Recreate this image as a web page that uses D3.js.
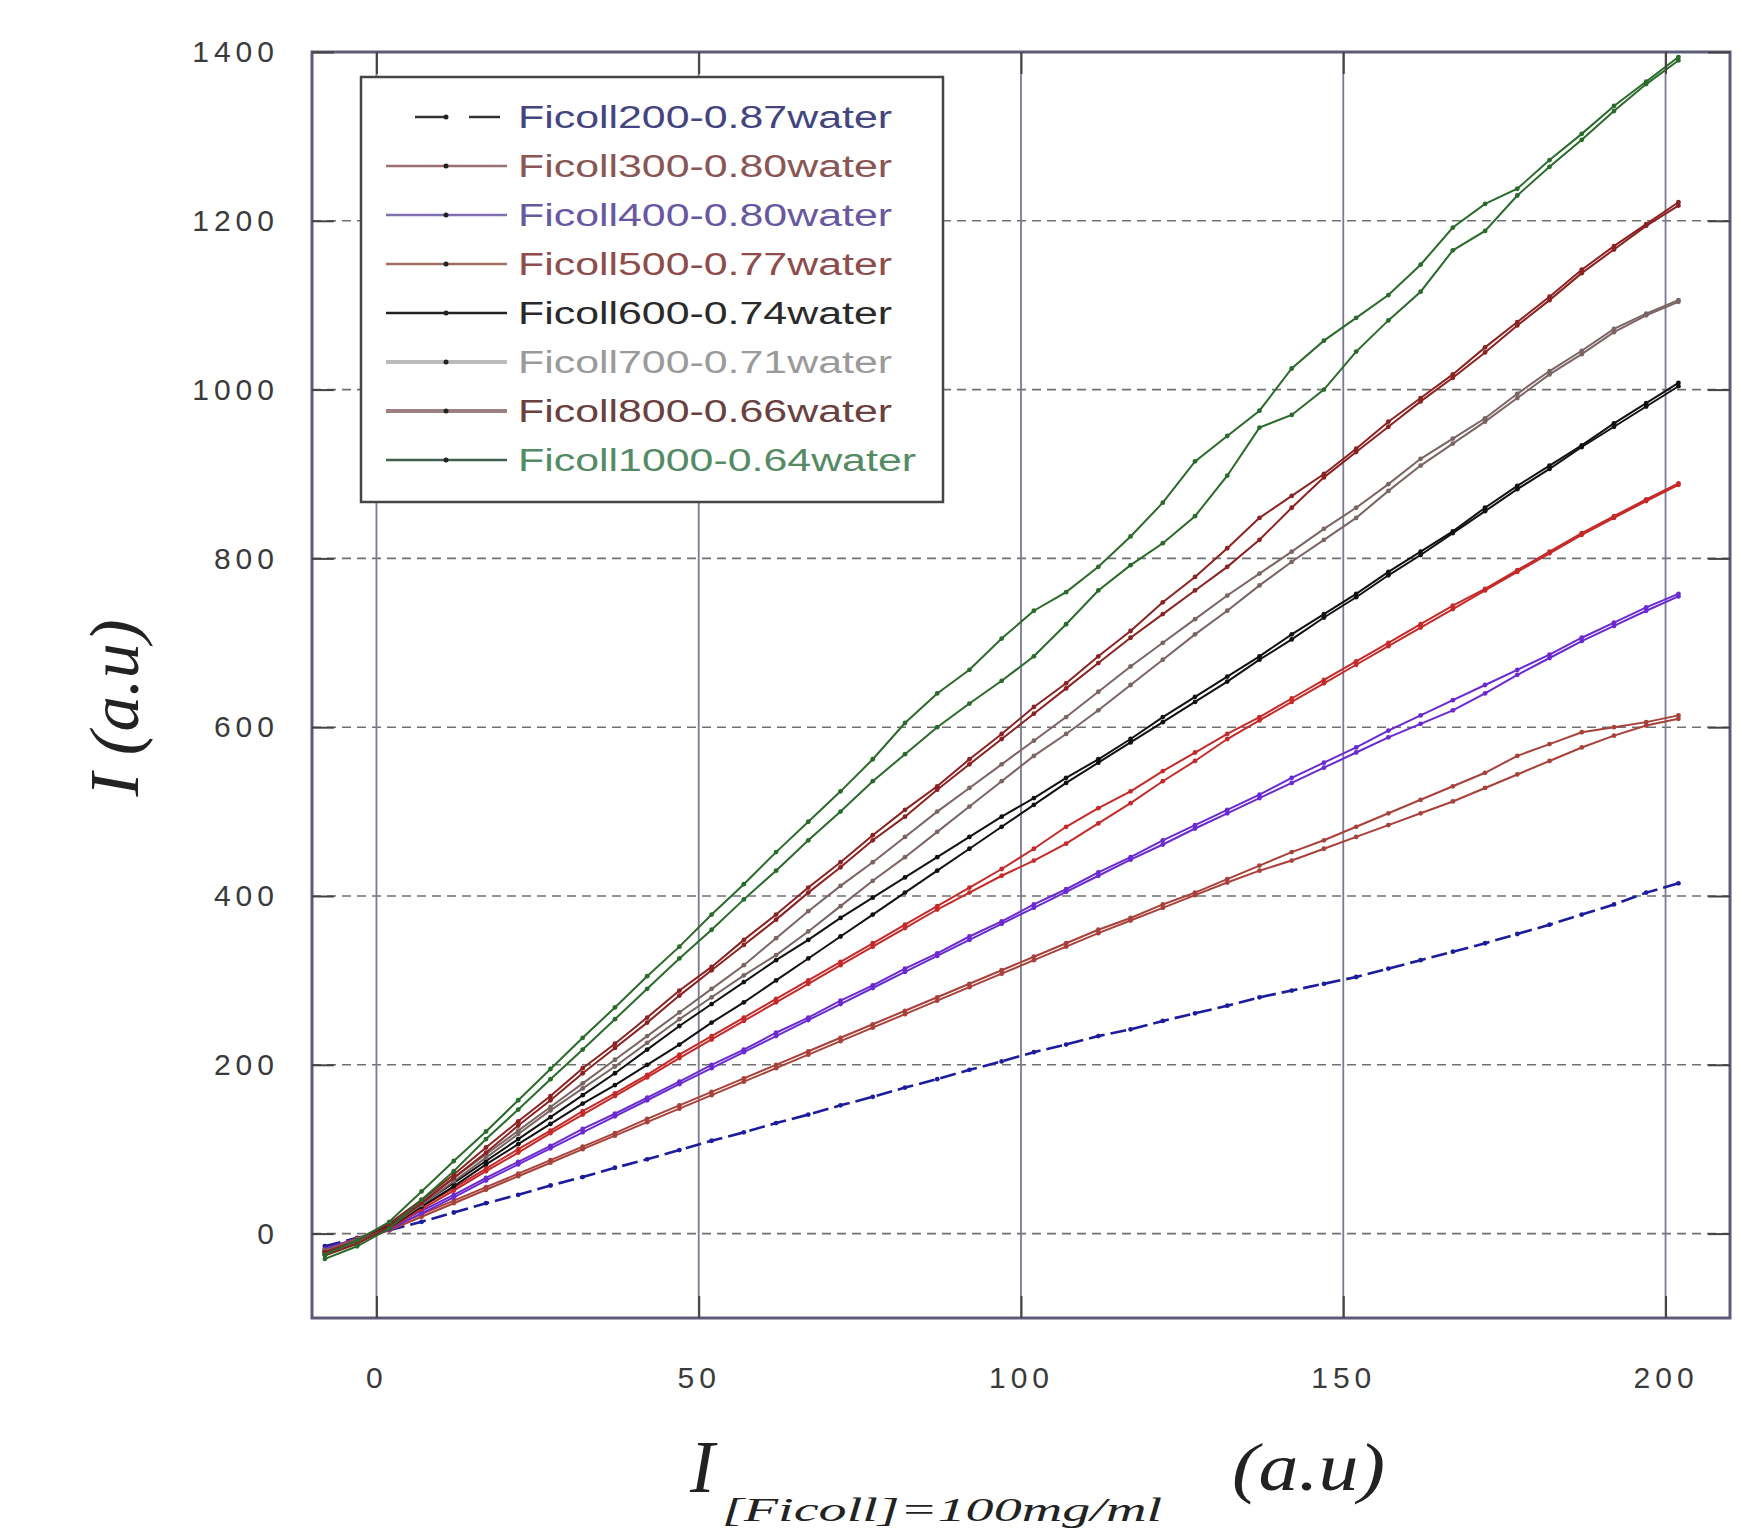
<!DOCTYPE html>
<html>
<head>
<meta charset="utf-8">
<script src="https://cdn.jsdelivr.net/npm/d3@7"></script>
<style>
  body { margin: 0; background: #fff; }
  svg { display: block; }
  .tick-label text { font-family: 'Liberation Sans', Arial, sans-serif; font-size: 30px; fill: #3a3a3a; letter-spacing: 5px; }
  .legend-label { font-family: 'Liberation Sans', Arial, sans-serif; font-size: 31px; }
  .axis-title { font-family: 'Liberation Serif', 'Times New Roman', serif; font-style: italic; fill: #222; }
</style>
</head>
<body>
<div id="chart1"></div>
<script>
// shared x positions of every trace (a.u.)
var xValues = [-8, -3, 2, 7, 12, 17, 22, 27, 32, 37, 42, 47, 52, 57, 62, 67, 72, 77, 82, 87, 92, 97,
  102, 107, 112, 117, 122, 127, 132, 137, 142, 147, 152, 157, 162, 167, 172, 177, 182, 187, 192, 197, 202]

var xTicks = [0, 50, 100, 150, 200]
var yTicks = [0, 200, 400, 600, 800, 1000, 1200, 1400]

var seriesNames = ['Ficoll200-0.87water', 'Ficoll300-0.80water', 'Ficoll400-0.80water', 'Ficoll500-0.77water',
  'Ficoll600-0.74water', 'Ficoll700-0.71water', 'Ficoll800-0.66water', 'Ficoll1000-0.64water']

var ficoll200 = [-15, -5, 4, 14, 25, 36, 46, 57, 67, 78, 88, 99, 110, 120, 131, 141, 152, 162, 173, 183, 194, 204,
  215, 224, 234, 242, 252, 261, 270, 280, 288, 296, 304, 314, 324, 334, 344, 355, 366, 378, 390, 404, 415]

var ficoll300a = [-18, -6, 7, 23, 39, 55, 71, 87, 103, 119, 136, 152, 168, 184, 200, 216, 232, 248, 264, 280, 296, 312,
  328, 344, 360, 374, 390, 404, 420, 436, 452, 466, 482, 498, 514, 530, 546, 566, 580, 594, 600, 606, 614]
var ficoll300b = [-21, -9, 4, 20, 36, 52, 68, 84, 100, 116, 132, 148, 164, 180, 196, 212, 228, 244, 260, 276, 292, 308,
  324, 340, 356, 371, 386, 401, 416, 430, 442, 456, 470, 484, 498, 512, 528, 544, 560, 576, 590, 602, 610]

var ficoll400a = [-18, -6, 8, 27, 46, 66, 85, 104, 124, 142, 161, 180, 200, 218, 238, 256, 276, 294, 314, 332, 352, 370,
  390, 408, 428, 446, 466, 484, 502, 520, 540, 558, 576, 596, 614, 632, 650, 668, 686, 706, 724, 742, 758]
var ficoll400b = [-21, -9, 5, 24, 43, 63, 82, 101, 120, 139, 158, 177, 196, 215, 234, 253, 272, 291, 310, 329, 348, 367,
  386, 405, 424, 443, 461, 480, 498, 516, 534, 552, 570, 588, 604, 620, 640, 662, 682, 702, 720, 738, 755]

var ficoll500a = [-20, -6, 9, 32, 54, 77, 100, 122, 145, 166, 188, 212, 234, 256, 278, 300, 322, 344, 366, 388, 410, 432,
  456, 482, 504, 524, 548, 570, 592, 612, 634, 656, 678, 700, 722, 744, 764, 786, 808, 830, 850, 870, 889]
var ficoll500b = [-23, -9, 6, 29, 51, 74, 96, 119, 141, 163, 185, 208, 230, 252, 274, 296, 318, 340, 362, 384, 404, 424,
  442, 462, 486, 510, 536, 560, 586, 608, 630, 652, 674, 696, 718, 740, 762, 784, 806, 828, 848, 868, 887]

var ficoll600a = [-22, -8, 10, 35, 60, 86, 112, 138, 164, 190, 218, 246, 272, 298, 324, 348, 374, 398, 422, 446, 470, 494,
  516, 540, 562, 586, 612, 636, 660, 684, 710, 734, 758, 784, 808, 832, 860, 886, 910, 934, 960, 984, 1008]
var ficoll600b = [-25, -11, 7, 32, 56, 82, 106, 130, 154, 176, 200, 224, 250, 274, 300, 326, 352, 378, 404, 430, 456, 482,
  508, 534, 558, 582, 606, 630, 654, 680, 704, 730, 754, 780, 804, 830, 856, 882, 906, 932, 956, 980, 1004]

var ficoll700a = [-20, -7, 12, 38, 66, 94, 122, 150, 178, 206, 234, 262, 290, 318, 350, 382, 412, 440, 470, 500, 528, 556,
  584, 612, 642, 672, 700, 728, 756, 782, 808, 835, 860, 888, 918, 942, 966, 995, 1022, 1046, 1072, 1090, 1106]
var ficoll700b = [-24, -10, 8, 34, 62, 90, 118, 146, 172, 198, 226, 254, 280, 306, 330, 358, 388, 418, 446, 476, 506, 536,
  566, 592, 620, 650, 680, 710, 738, 768, 796, 822, 848, 880, 910, 936, 962, 990, 1018, 1042, 1068, 1088, 1104]

var ficoll800a = [-22, -8, 12, 40, 70, 102, 133, 163, 196, 225, 256, 288, 316, 348, 378, 410, 440, 472, 502, 530, 562, 592,
  624, 652, 684, 714, 748, 778, 812, 848, 874, 900, 930, 962, 990, 1018, 1050, 1080, 1110, 1142, 1170, 1196, 1222]
var ficoll800b = [-26, -12, 8, 36, 66, 96, 128, 158, 190, 220, 250, 282, 312, 342, 372, 404, 434, 466, 494, 526, 556, 586,
  616, 646, 676, 706, 734, 762, 790, 822, 860, 896, 926, 956, 986, 1014, 1044, 1076, 1106, 1138, 1166, 1194, 1218]

var ficoll1000a = [-25, -8, 14, 50, 86, 121, 158, 195, 232, 268, 305, 340, 378, 414, 452, 488, 524, 562, 605, 640, 668, 705,
  738, 760, 790, 826, 866, 915, 945, 975, 1025, 1058, 1085, 1112, 1148, 1192, 1220, 1238, 1272, 1303, 1336, 1365, 1394]
var ficoll1000b = [-30, -15, 6, 40, 74, 112, 147, 183, 218, 254, 290, 326, 360, 396, 430, 466, 500, 536, 568, 600, 628, 655,
  684, 722, 762, 792, 818, 850, 898, 955, 970, 1000, 1045, 1082, 1116, 1165, 1188, 1230, 1264, 1296, 1330, 1362, 1390]

;(function() {
  var margin = { top: 52, right: 14, bottom: 214, left: 312 }
  var width = 1744 - margin.left - margin.right
  var height = 1532 - margin.top - margin.bottom

  var svg = d3
    .select('#chart1')
    .append('svg')
    .attr('width', width + margin.left + margin.right)
    .attr('height', height + margin.top + margin.bottom)
    .append('g')
    .attr('transform', 'translate(' + margin.left + ',' + margin.top + ')')

  var xPositionScale = d3
    .scaleLinear()
    .domain([-10, 210])
    .range([0, width])
  var yPositionScale = d3
    .scaleLinear()
    .domain([-100, 1400])
    .range([height, 0])

  // styles, one per legend entry
  var lineColors = ['#1c1c9c', '#a8413a', '#6a2ad0', '#c42a2a', '#111111', '#7a6464', '#8b2222', '#2a6a2a']
  var textColors = ['#44447e', '#8a5555', '#6858a0', '#8e4c4c', '#2a2a2a', '#9a9a9a', '#6a4040', '#548a64']
  var sampleColors = ['#333333', '#9a7070', '#8070b0', '#a07060', '#222222', '#bbbbbb', '#9a8080', '#406050']

  var traces = [
    { s: 0, values: ficoll200 },
    { s: 1, values: ficoll300a }, { s: 1, values: ficoll300b },
    { s: 2, values: ficoll400a }, { s: 2, values: ficoll400b },
    { s: 3, values: ficoll500a }, { s: 3, values: ficoll500b },
    { s: 4, values: ficoll600a }, { s: 4, values: ficoll600b },
    { s: 5, values: ficoll700a }, { s: 5, values: ficoll700b },
    { s: 6, values: ficoll800a }, { s: 6, values: ficoll800b },
    { s: 7, values: ficoll1000a }, { s: 7, values: ficoll1000b }
  ]

  svg
    .append('clipPath')
    .attr('id', 'plot-clip')
    .append('rect')
    .attr('width', width)
    .attr('height', height)

  // grid
  svg
    .selectAll('.hgrid')
    .data(yTicks.filter(d => d < 1400))
    .enter()
    .append('line')
    .attr('class', 'hgrid')
    .attr('x1', 0)
    .attr('x2', width)
    .attr('y1', d => yPositionScale(d))
    .attr('y2', d => yPositionScale(d))
    .attr('stroke', '#707070')
    .attr('stroke-width', 1.6)
    .attr('stroke-dasharray', '9,6')

  svg
    .selectAll('.vgrid')
    .data(xTicks)
    .enter()
    .append('line')
    .attr('class', 'vgrid')
    .attr('x1', d => xPositionScale(d))
    .attr('x2', d => xPositionScale(d))
    .attr('y1', 0)
    .attr('y2', height)
    .attr('stroke', '#7a7a90')
    .attr('stroke-width', 1.8)

  // traces
  var line = d3
    .line()
    .x((d, i) => xPositionScale(xValues[i]))
    .y(d => yPositionScale(d))

  var plot = svg.append('g').attr('clip-path', 'url(#plot-clip)')

  traces.forEach(function(t) {
    plot
      .append('path')
      .datum(t.values)
      .attr('d', line)
      .attr('fill', 'none')
      .attr('stroke', lineColors[t.s])
      .attr('stroke-width', t.s === 0 ? 2.6 : 2)
      .attr('stroke-dasharray', t.s === 0 ? '16,6' : null)

    plot
      .selectAll('.m')
      .data(t.values)
      .enter()
      .append('circle')
      .attr('cx', (d, i) => xPositionScale(xValues[i]))
      .attr('cy', d => yPositionScale(d))
      .attr('r', 2.4)
      .attr('fill', lineColors[t.s])
  })

  // frame
  svg
    .append('rect')
    .attr('width', width)
    .attr('height', height)
    .attr('fill', 'none')
    .attr('stroke', '#5c5c78')
    .attr('stroke-width', 3)

  // axes: inward ticks on all sides
  var yAxis = d3
    .axisLeft(yPositionScale)
    .tickValues(yTicks)
    .tickFormat(d3.format('d'))
    .tickSizeInner(-22)
    .tickSizeOuter(0)
    .tickPadding(33)
  svg
    .append('g')
    .attr('class', 'tick-label')
    .call(yAxis)

  var xAxis = d3
    .axisBottom(xPositionScale)
    .tickValues(xTicks)
    .tickFormat(d3.format('d'))
    .tickSizeInner(-22)
    .tickSizeOuter(0)
    .tickPadding(49)
  svg
    .append('g')
    .attr('class', 'tick-label')
    .attr('transform', 'translate(0,' + height + ')')
    .call(xAxis)

  svg
    .append('g')
    .attr('transform', 'translate(' + width + ',0)')
    .call(d3.axisRight(yPositionScale).tickValues(yTicks).tickSizeInner(-22).tickSizeOuter(0).tickFormat(''))
  svg
    .append('g')
    .call(d3.axisTop(xPositionScale).tickValues(xTicks).tickSizeInner(-22).tickSizeOuter(0).tickFormat(''))

  svg.selectAll('.domain').remove()
  svg
    .selectAll('.tick line')
    .attr('stroke', '#444')
    .attr('stroke-width', 2)
  svg.selectAll('.tick-label text').attr('fill', '#3a3a3a')

  // legend
  var legend = svg.append('g').attr('transform', 'translate(49,25)')
  legend
    .append('rect')
    .attr('width', 582)
    .attr('height', 425)
    .attr('fill', '#fff')
    .attr('stroke', '#454545')
    .attr('stroke-width', 2.5)

  var rows = legend
    .selectAll('.row')
    .data(seriesNames)
    .enter()
    .append('g')
    .attr('class', 'row')
    .attr('transform', (d, i) => 'translate(0,' + (40 + i * 49) + ')')

  rows
    .append('line')
    .attr('x1', (d, i) => (i === 0 ? 54 : 25))
    .attr('x2', (d, i) => (i === 0 ? 142 : 146))
    .attr('stroke', (d, i) => sampleColors[i])
    .attr('stroke-width', (d, i) => (i === 5 || i === 6 ? 4 : 2.5))
    .attr('stroke-dasharray', (d, i) => (i === 0 ? '31,23' : null))

  rows
    .append('circle')
    .attr('cx', 85)
    .attr('r', 2.5)
    .attr('fill', '#222')

  rows
    .append('text')
    .attr('class', 'legend-label')
    .attr('x', 157)
    .attr('y', 11)
    .attr('textLength', d => (d.length > 19 ? 398 : 374))
    .attr('lengthAdjust', 'spacingAndGlyphs')
    .attr('fill', (d, i) => textColors[i])
    .text(d => d)

  // axis titles
  var root = d3.select('#chart1 svg')
  root
    .append('text')
    .attr('class', 'axis-title')
    .attr('transform', 'translate(138,708) rotate(-90)')
    .attr('text-anchor', 'middle')
    .attr('font-size', 70)
    .attr('textLength', 177)
    .attr('lengthAdjust', 'spacingAndGlyphs')
    .text('I (a.u)')

  root
    .append('text')
    .attr('class', 'axis-title')
    .attr('x', 690)
    .attr('y', 1492)
    .attr('font-size', 74)
    .text('I')

  root
    .append('text')
    .attr('class', 'axis-title')
    .attr('x', 722)
    .attr('y', 1521)
    .attr('font-size', 34)
    .attr('textLength', 440)
    .attr('lengthAdjust', 'spacingAndGlyphs')
    .text('[Ficoll]=100mg/ml')

  root
    .append('text')
    .attr('class', 'axis-title')
    .attr('x', 1232)
    .attr('y', 1490)
    .attr('font-size', 68)
    .attr('textLength', 153)
    .attr('lengthAdjust', 'spacingAndGlyphs')
    .text('(a.u)')
})()
</script>
</body>
</html>
